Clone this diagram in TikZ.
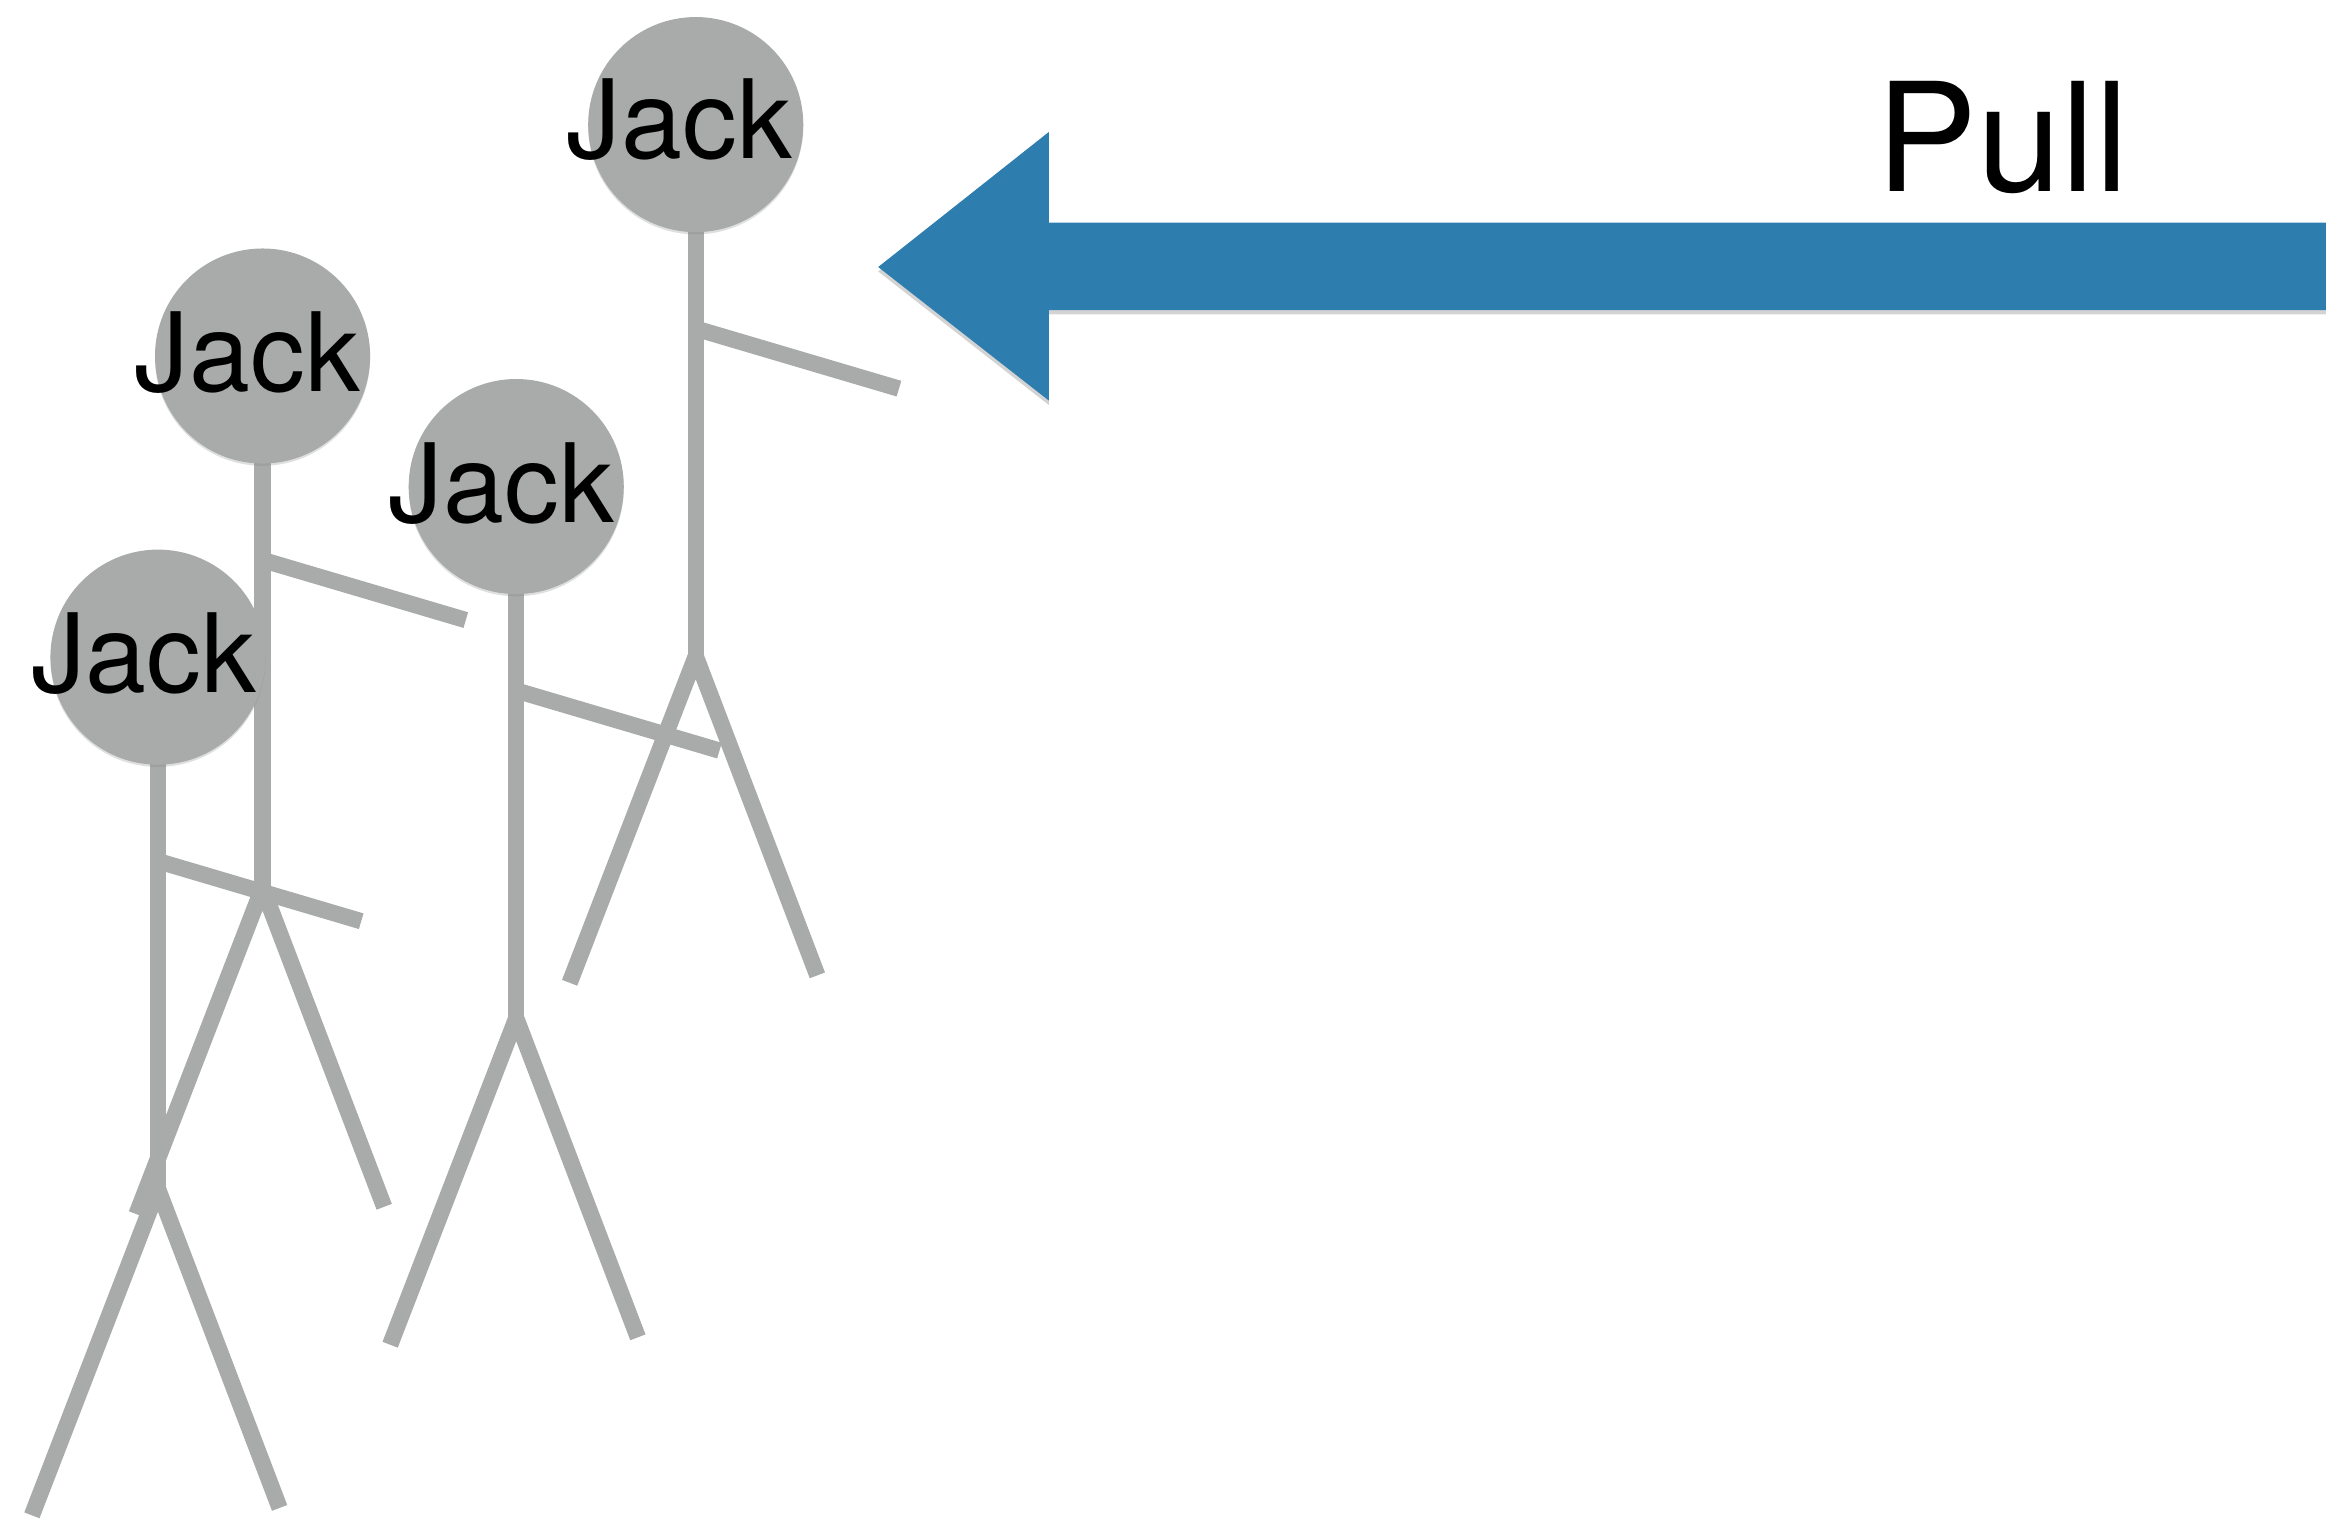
\documentclass[tikz,border=0pt]{standalone}
\usepackage{fontspec}
\setmainfont{TeX Gyre Heros}
\usetikzlibrary{calc,shadows}

\definecolor{limbgray}{RGB}{168,171,170}
\definecolor{pullblue}{RGB}{46,125,175}

\tikzset{
	limb/.style={draw=limbgray, line width=0.22cm},
	headball/.style={circle, fill=limbgray, minimum size=2.9cm, inner sep=0pt, drop shadow={shadow xshift=0pt, shadow yshift=-0.03cm, opacity=0.25}},
	jacktext/.style={font=\fontsize{42}{42}\selectfont, text=black, inner sep=0pt, anchor=base},
}

\newcommand{\stickman}[3]{
	\coordinate (#1top) at (#2,#3);
	\coordinate (#1hip) at ($(#1top)+(0,-7.17)$);
	\coordinate (#1arm) at ($(#1top)+(0,-2.75)$);
	\coordinate (#1hand) at ($(#1arm)+(2.74,-0.81)$);
	\coordinate (#1footl) at ($(#1hip)+(-1.7,-4.4)$);
	\coordinate (#1footr) at ($(#1hip)+(1.64,-4.3)$);
	\draw[limb] (#1top)--(#1hip);
	\draw[limb] (#1arm)--(#1hand);
	\draw[limb] (#1footl)--(#1hip)--(#1footr);
}

\begin{document}
\begin{tikzpicture}
	\useasboundingbox (0,0) rectangle (31.36,20.48);

	% back to front
	\stickman{A}{9.38}{18.8}
	\stickman{B}{3.54}{15.68}
	\stickman{C}{6.96}{13.92}
	\stickman{D}{2.13}{11.62}

	\node[headball] (Ahead) at (Atop) {};
	\node[headball] (Bhead) at (Btop) {};
	\node[headball] (Chead) at (Ctop) {};
	\node[headball] (Dhead) at (Dtop) {};

	\node[jacktext] (Alabel) at (9.16,18.34) {Jack};
	\node[jacktext] (Blabel) at (3.34,15.2) {Jack};
	\node[jacktext] (Clabel) at (6.76,13.44) {Jack};
	\node[jacktext] (Dlabel) at (1.94,11.14) {Jack};

	\fill[pullblue, drop shadow={shadow xshift=0pt, shadow yshift=-0.06cm, opacity=0.35}]
		(31.36,17.48) -- (14.14,17.48) -- (14.14,18.7) -- (11.84,16.88) -- (14.14,15.08) -- (14.14,16.3) -- (31.36,16.3) -- cycle;

	\node[font=\fontsize{58}{58}\selectfont, inner sep=0pt, anchor=base] (pull) at (27,17.9) {Pull};
\end{tikzpicture}
\end{document}
